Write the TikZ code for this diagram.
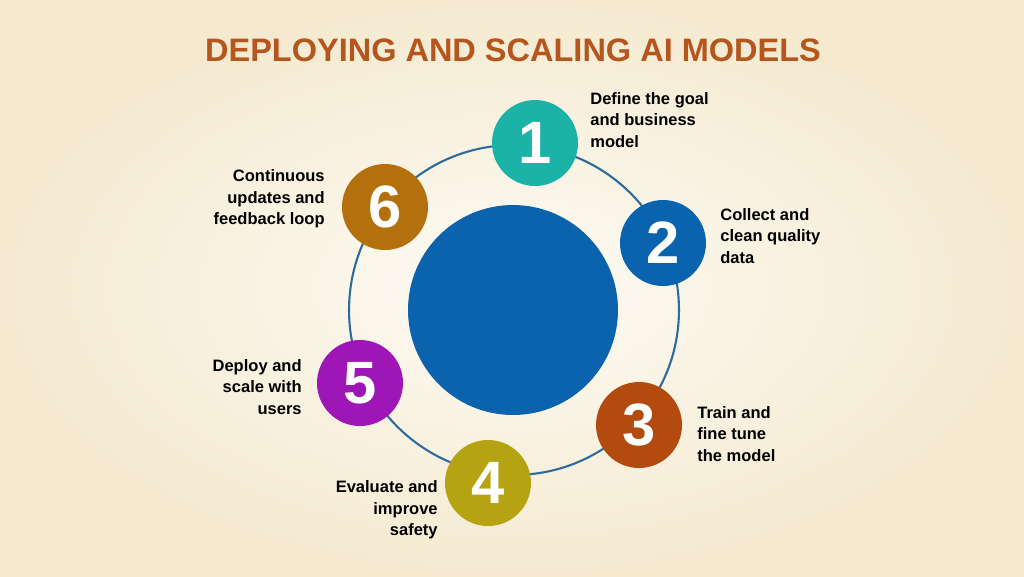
\documentclass[tikz,border=0pt]{standalone}
\usepackage{fontspec}
\setmainfont{Liberation Sans}
\definecolor{titlec}{HTML}{B5561E}
\definecolor{ringc}{HTML}{2E6C9C}
\definecolor{hubc}{HTML}{0B63AE}
\definecolor{c1}{HTML}{1BB3A8}
\definecolor{c2}{HTML}{0A63AE}
\definecolor{c3}{HTML}{B34A0E}
\definecolor{c4}{HTML}{B5A312}
\definecolor{c5}{HTML}{9E16B5}
\definecolor{c6}{HTML}{B5700E}
\definecolor{bgin}{HTML}{FDFBF5}
\definecolor{bgout}{HTML}{F5EAD0}

\begin{document}
\begin{tikzpicture}[x=0.02cm,y=-0.02cm,
  stepc/.style={circle,fill=#1,minimum size=1.72cm,inner sep=0pt,text=white,font=\bfseries\fontsize{34}{34}\selectfont},
  lbl/.style={font=\bfseries\fontsize{9.4}{12.2}\selectfont,text=black,inner sep=0pt}]
  \shade[inner color=bgin,outer color=bgout] (0,0) rectangle (1024,576);
  \useasboundingbox (0,0) rectangle (1024,576);

  \node[text=titlec,font=\bfseries\fontsize{18.5}{20}\selectfont] (title) at (513,50) {DEPLOYING AND SCALING AI MODELS};

  \node[circle,draw=ringc,line width=1.2pt,minimum size=6.6cm] (ring) at (514,310) {};
  \node[circle,fill=hubc,minimum size=4.2cm] (hub) at (513,310) {};

  \node[stepc=c1] (s1) at (535,143) {1};
  \node[stepc=c2] (s2) at (663,243) {2};
  \node[stepc=c3] (s3) at (639,425) {3};
  \node[stepc=c4] (s4) at (488,483) {4};
  \node[stepc=c5] (s5) at (360,383) {5};
  \node[stepc=c6] (s6) at (385,207) {6};

  \node[lbl,anchor=west,align=left]  (t1) at (590,120) {Define the goal\\and business\\model};
  \node[lbl,anchor=west,align=left]  (t2) at (720,236) {Collect and\\clean quality\\data};
  \node[lbl,anchor=west,align=left]  (t3) at (697,434) {Train and\\fine tune\\the model};
  \node[lbl,anchor=east,align=right] (t4) at (438,510) {Evaluate and\\improve\\safety};
  \node[lbl,anchor=east,align=right] (t5) at (302,387) {Deploy and\\scale with\\users};
  \node[lbl,anchor=east,align=right] (t6) at (325,199) {Continuous\\updates and\\feedback loop};
\end{tikzpicture}
\end{document}
